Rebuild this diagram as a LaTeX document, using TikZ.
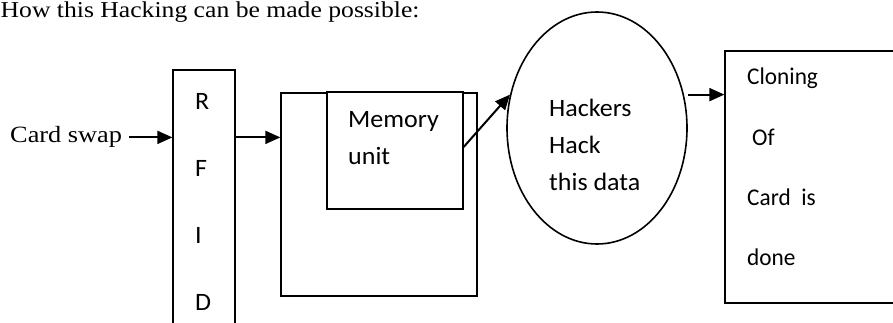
\documentclass[tikz,border=0pt]{standalone}
\usepackage{fontspec}
\setmainfont{Liberation Serif}[FakeStretch=1.13]
\newfontfamily\calw{Carlito}[FakeStretch=1.04]
\newfontfamily\caln{Carlito}[FakeStretch=0.97]
\usetikzlibrary{arrows.meta,shapes.geometric}
\begin{document}
\begin{tikzpicture}[x=1pt,y=-1pt,
  box/.style={draw,line width=1.3pt,rectangle,inner sep=0pt,fill=white},
  arr/.style={line width=2pt,-{Triangle[length=15pt,width=13pt]}},
  txt/.style={inner sep=0pt,anchor=base west},
  widefont/.style={font=\calw\fontsize{25}{30}\selectfont},
  narrowfont/.style={font=\caln\fontsize{24}{29}\selectfont}]
\useasboundingbox (0,0) rectangle (893,323);
% title
\node[txt,font=\fontsize{22.7}{27}\selectfont] (title) at (0.5,18) {How this Hacking can be made possible:};
% card swap
\node[txt,inner xsep=7pt,font=\fontsize{23.3}{28}\selectfont] (cs) at (3,143) {Card swap};
% RFID
\node[box,minimum width=62pt,minimum height=280pt] (rfid) at (204,210) {};
\node[txt,widefont] (rfidtxt) at (195,110) {\vtop{\baselineskip=67pt \hbox{R}\hbox{F}\hbox{I}\hbox{D}}};
% big box and memory unit
\node[box,minimum width=196pt,minimum height=203pt] (big) at (379,194.5) {};
\node[box,minimum width=136pt,minimum height=117pt] (mem) at (395,150.5) {};
\node[txt,widefont] (memtxt) at (348,128) {\vtop{\baselineskip=37pt \hbox{Memory}\hbox{unit}}};
% ellipse
\node[draw,ellipse,line width=1.6pt,minimum width=180pt,minimum height=232pt,inner sep=0pt] (ell) at (597,128) {};
\node[txt,widefont] (elltxt) at (549,117) {\vtop{\baselineskip=37pt \hbox{Hackers}\hbox{Hack}\hbox{this data}}};
% cloning box
\node[box,minimum width=180pt,minimum height=252pt] (clone) at (815,177) {};
\node[txt,narrowfont] (clonetxt) at (747,85) {\vtop{\baselineskip=60.3pt \hbox{Cloning}\hbox{\kern5pt Of}\hbox{Card\ \ is}\hbox{done}}};
% arrows
\draw[arr] (cs.east) -- (cs.east -| rfid.west);
\draw[arr] (rfid.east |- cs.east) -- (big.west |- cs.east);
\draw[arr] ([yshift=3.5pt]mem.east) -- (ell.159);
\draw[arr] ([xshift=4pt]ell.21) -- (ell.21 -| clone.west);
\end{tikzpicture}
\end{document}
